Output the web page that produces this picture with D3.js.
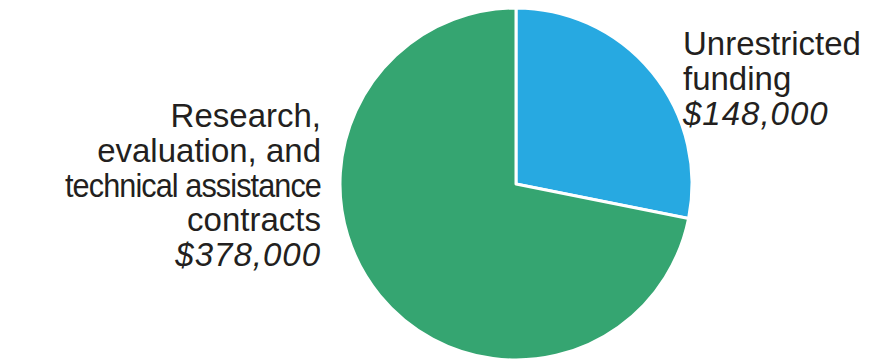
<!DOCTYPE html>
<html>
<head>
<meta charset="utf-8">
<script src="https://cdn.jsdelivr.net/npm/d3@7"></script>
<style>
  html, body { margin: 0; padding: 0; background: #fff; }
</style>
</head>
<body>
<div id="chart"></div>
<script>
const categories = ['Unrestricted funding', 'Research, evaluation, and technical assistance contracts'];
const values = [148000, 378000];
const labelLines = [
  ['Unrestricted', 'funding'],
  ['Research,', 'evaluation, and', 'technical assistance', 'contracts']
];
const colors = ['#27a9e1', '#35a571'];

const width = 878, height = 362;
const cx = 516, cy = 184, radius = 176;

const svg = d3.select('#chart')
  .append('svg')
  .attr('width', width)
  .attr('height', height);

const pie = d3.pie().sort(null).value(d => d);
const arc = d3.arc().innerRadius(0).outerRadius(radius);

const g = svg.append('g')
  .attr('transform', `translate(${cx}, ${cy})`);

g.selectAll('path')
  .data(pie(values))
  .enter()
  .append('path')
  .attr('d', arc)
  .attr('fill', (d, i) => colors[i])
  .attr('stroke', '#fff')
  .attr('stroke-width', 3)
  .attr('stroke-linejoin', 'round');

const fmt = v => '$' + d3.format(',')(v);
const fontSize = 33, lineH = 34.8;
const font = '"Liberation Sans", Arial, sans-serif';

// the original gothic face is narrower on long lowercase runs,
// so squeeze those a little and tighten the spacing a little
const isLong = l => l.length > 16;

function label(lines, value, x, y0, anchor) {
  const rows = lines.map(l => ({ text: l, italic: false }))
    .concat([{ text: fmt(value), italic: true }]);
  svg.append('g').selectAll('text')
    .data(rows)
    .enter()
    .append('text')
    .attr('transform', (d, i) => `translate(${x}, ${y0 + i * lineH}) scale(${isLong(d.text) ? 0.93 : 1},1)`)
    .attr('font-family', font)
    .attr('font-size', fontSize + 'px')
    .attr('font-style', d => d.italic ? 'italic' : 'normal')
    .attr('letter-spacing', d => d.italic ? '1px' : isLong(d.text) ? '-1px' : '0px')
    .attr('fill', '#231f20')
    .attr('text-anchor', anchor)
    .text(d => d.text);
}

label(labelLines[0], values[0], 683, 55, 'start');
label(labelLines[1], values[1], 321, 127, 'end');
</script>
</body>
</html>
